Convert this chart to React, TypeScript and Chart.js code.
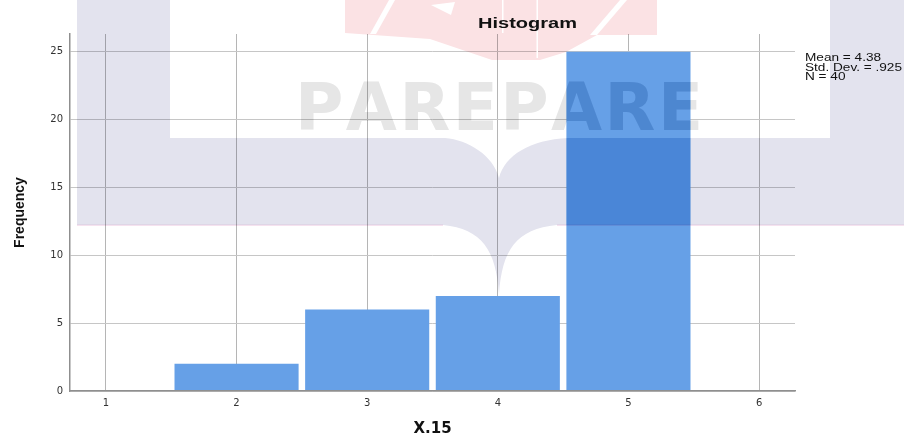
import React, { useEffect, useRef } from "react";
import { Chart, registerables } from "chart.js";

Chart.register(...registerables);

// ---- data ----
const binCenters = [2, 3, 4, 5];
const frequencies = [2, 6, 7, 25];
const xTickValues = [1, 2, 3, 4, 5, 6];
const yTickValues = [0, 5, 10, 15, 20, 25];
const chartTitle = "Histogram";
const xAxisTitle = "X.15";
const yAxisTitle = "Frequency";
const statsLines = ["Mean = 4.38", "Std. Dev. = .925", "N = 40"];
const watermarkText = "PAREPARE";

const SANS = "'Liberation Sans', Arial, sans-serif";
const DEJAVU = "'DejaVu Sans', sans-serif";

function drawStretched(
  ctx: CanvasRenderingContext2D,
  text: string,
  x: number,
  y: number,
  align: CanvasTextAlign,
  targetWidth: number
) {
  const w = ctx.measureText(text).width;
  const sx = w > 0 ? targetWidth / w : 1;
  ctx.save();
  ctx.translate(x, y);
  ctx.scale(sx, 1);
  ctx.textAlign = align;
  ctx.textBaseline = "alphabetic";
  ctx.fillText(text, 0, 0);
  ctx.restore();
}

function lavenderPath(ctx: CanvasRenderingContext2D) {
  ctx.beginPath();
  ctx.moveTo(77, 0);
  ctx.lineTo(904, 0);
  ctx.lineTo(904, 225);
  ctx.lineTo(557, 225);
  ctx.bezierCurveTo(516, 229, 502, 250, 499, 294);
  ctx.bezierCurveTo(496, 250, 482, 229, 443, 225);
  ctx.lineTo(77, 225);
  ctx.closePath();
  ctx.moveTo(170, 0);
  ctx.lineTo(830, 0);
  ctx.lineTo(830, 138);
  ctx.lineTo(568, 138);
  ctx.bezierCurveTo(530, 140, 505, 155, 499, 178);
  ctx.bezierCurveTo(493, 155, 468, 140, 445, 138);
  ctx.lineTo(170, 138);
  ctx.closePath();
}

function drawLetters(ctx: CanvasRenderingContext2D, color: string) {
  ctx.font = `bold 66px ${DEJAVU}`;
  ctx.fillStyle = color;
  ctx.textBaseline = "alphabetic";
  ctx.textAlign = "left";
  const letters = watermarkText.split("");
  const widths = letters.map((c) => ctx.measureText(c).width);
  const total = widths.reduce((a, b) => a + b, 0);
  const spacing = (408 - total) / (letters.length - 1);
  let x = 295;
  letters.forEach((c, i) => {
    ctx.fillText(c, x, 130);
    x += widths[i] + spacing;
  });
}

const watermarkPlugin = {
  id: "watermark",
  afterDatasetsDraw(chart: any) {
    const ctx: CanvasRenderingContext2D = chart.ctx;
    ctx.save();
    ctx.globalCompositeOperation = "multiply";

    lavenderPath(ctx);
    ctx.fillStyle = "#e3e3ee";
    ctx.fill("evenodd");

    // faint pink edge under band
    ctx.fillStyle = "#f6e2ef";
    ctx.fillRect(77, 224.5, 366, 1.5);
    ctx.fillRect(557, 224.5, 347, 1.5);

    // pink logo
    ctx.beginPath();
    ctx.moveTo(345, 0);
    ctx.lineTo(657, 0);
    ctx.lineTo(657, 35);
    ctx.lineTo(597, 35);
    ctx.lineTo(566, 52);
    ctx.lineTo(540, 60);
    ctx.lineTo(492, 60);
    ctx.lineTo(430, 39);
    ctx.lineTo(345, 33);
    ctx.closePath();
    ctx.fillStyle = "#fbe2e4";
    ctx.fill();

    drawLetters(ctx, "#e6e6e6");

    // extra darkening where the watermark lies over the bars
    const meta = chart.getDatasetMeta(0);
    ctx.save();
    ctx.beginPath();
    meta.data.forEach((el: any) => {
      const p = el.getProps(["x", "y", "base", "width"], true);
      ctx.rect(p.x - p.width / 2, p.y, p.width, p.base - p.y);
    });
    ctx.clip();
    lavenderPath(ctx);
    ctx.fillStyle = "#d0f0ff";
    ctx.fill("evenodd");
    drawLetters(ctx, "#d6f0ff");
    ctx.restore();

    ctx.restore();

    // white strokes inside logo
    ctx.save();
    ctx.fillStyle = "#ffffff";
    ctx.beginPath();
    ctx.moveTo(389, 0);
    ctx.lineTo(395, 0);
    ctx.lineTo(376, 34);
    ctx.lineTo(370, 34);
    ctx.closePath();
    ctx.moveTo(620, 0);
    ctx.lineTo(627, 0);
    ctx.lineTo(597, 35);
    ctx.lineTo(590, 35);
    ctx.closePath();
    ctx.moveTo(431, 5);
    ctx.lineTo(455, 2);
    ctx.lineTo(451, 15);
    ctx.closePath();
    ctx.fill();
    ctx.fillRect(502, 0, 1.5, 33);
    ctx.fillRect(536.5, 0, 1.5, 58);
    ctx.restore();
  },
  afterDraw(chart: any) {
    const ctx: CanvasRenderingContext2D = chart.ctx;
    ctx.save();
    ctx.fillStyle = "#111111";
    ctx.font = `bold 15px ${SANS}`;
    drawStretched(ctx, chartTitle, 527.5, 28, "center", 99);
    const baselines = [61, 70.5, 80];
    ctx.font = `10px ${SANS}`;
    const sx = 97 / ctx.measureText(statsLines[1]).width;
    statsLines.forEach((line, i) => {
      const w = ctx.measureText(line).width * sx;
      drawStretched(ctx, line, 805, baselines[i], "left", w);
    });
    ctx.restore();
  },
};

export default function App() {
  const canvasRef = useRef<HTMLCanvasElement | null>(null);

  useEffect(() => {
    document.body.style.margin = "0";
    const canvas = canvasRef.current;
    if (!canvas) return;
    const chart = new Chart(canvas, {
      type: "bar",
      data: {
        datasets: [
          {
            label: yAxisTitle,
            data: binCenters.map((x, i) => ({ x, y: frequencies[i] })),
            backgroundColor: "#66a0e7",
            borderWidth: 0,
            barPercentage: 0.95,
            categoryPercentage: 1,
          },
        ],
      },
      options: {
        animation: false,
        responsive: false,
        maintainAspectRatio: false,
        layout: { padding: { left: 0, right: 109, top: 34, bottom: 0 } },
        plugins: {
          legend: { display: false },
          title: { display: false },
          tooltip: { enabled: false },
        },
        scales: {
          x: {
            type: "linear",
            min: 0.725,
            max: 6.275,
            offset: false,
            afterBuildTicks: (s: any) => {
              s.ticks = xTickValues.map((v) => ({ value: v }));
            },
            afterFit: (s: any) => {
              s.height = 43;
            },
            grid: {
              offset: false,
              color: "#b5b5b5",
              lineWidth: 1,
              drawTicks: false,
            },
            border: { display: true, color: "#8f8f8f", width: 1.5, z: 1 },
            ticks: {
              padding: 6.5,
              color: "#333333",
              font: { family: DEJAVU, size: 10 },
              maxRotation: 0,
              autoSkip: false,
              callback: (v: any) => String(v),
            },
            title: {
              display: true,
              text: xAxisTitle,
              color: "#111111",
              font: { family: DEJAVU, size: 15, weight: "bold", lineHeight: 1 },
              padding: { top: 0, bottom: -2.5 },
            },
          },
          y: {
            type: "linear",
            min: 0,
            max: 26.3,
            afterBuildTicks: (s: any) => {
              s.ticks = yTickValues.map((v) => ({ value: v }));
            },
            afterFit: (s: any) => {
              s.width = 70;
            },
            grid: { color: "#c6c6c6", lineWidth: 1, drawTicks: false },
            border: { display: true, color: "#8f8f8f", width: 1.5, z: 1 },
            ticks: {
              padding: 7,
              color: "#333333",
              font: { family: DEJAVU, size: 10 },
              callback: (v: any) => String(v),
            },
            title: {
              display: true,
              text: yAxisTitle,
              color: "#111111",
              font: { family: SANS, size: 14, weight: "bold" },
              padding: { top: 11.5, bottom: 0 },
            },
          },
        },
      } as any,
      plugins: [watermarkPlugin],
    });
    return () => chart.destroy();
  }, []);

  return (
    <div style={{ width: 904, height: 434, background: "#ffffff" }}>
      <canvas ref={canvasRef} width={904} height={434} style={{ display: "block" }} />
    </div>
  );
}
